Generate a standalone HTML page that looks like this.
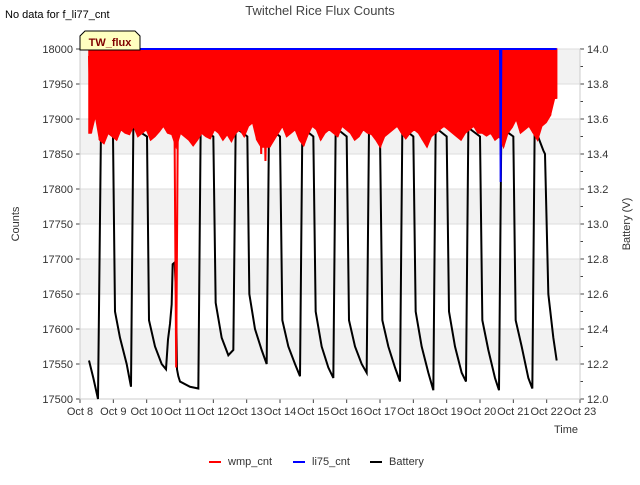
<!DOCTYPE html>
<html><head><meta charset="utf-8"><style>
body{margin:0;background:#fff;}
svg{font-family:"Liberation Sans","DejaVu Sans",sans-serif;}
</style></head><body>
<svg id="c" width="640" height="480" xmlns="http://www.w3.org/2000/svg"></svg>
<script>
const leftTicks=[17500,17550,17600,17650,17700,17750,17800,17850,17900,17950,18000];
const rightTicks=[12.0,12.2,12.4,12.6,12.8,13.0,13.2,13.4,13.6,13.8,14.0];
const xTickLabels=["Oct 8","Oct 9","Oct 10","Oct 11","Oct 12","Oct 13","Oct 14","Oct 15","Oct 16","Oct 17","Oct 18","Oct 19","Oct 20","Oct 21","Oct 22","Oct 23"];
const batteryDays=[0.27,0.4,0.54,0.63,0.99,1.05,1.2,1.4,1.53,1.6,2.01,2.07,2.25,2.45,2.58,2.64,2.7,2.75,2.78,2.84,2.88,2.91,2.95,3.0,3.3,3.55,3.62,4.0,4.07,4.25,4.45,4.6,4.67,5.02,5.08,5.25,5.45,5.6,5.67,6.0,6.07,6.25,6.45,6.6,6.67,7.0,7.07,7.25,7.45,7.6,7.67,8.0,8.07,8.25,8.45,8.6,8.67,9.0,9.07,9.25,9.45,9.6,9.67,10.0,10.07,10.25,10.45,10.6,10.67,11.0,11.07,11.25,11.45,11.58,11.65,12.0,12.07,12.25,12.45,12.57,12.64,13.0,13.07,13.25,13.45,13.57,13.64,13.9,13.95,14.05,14.2,14.3];
const batteryVolts=[12.22,12.12,12.0,13.55,13.5,12.5,12.35,12.2,12.07,13.55,13.5,12.45,12.3,12.2,12.17,12.34,12.43,12.54,12.77,12.78,12.6,12.17,12.13,12.1,12.07,12.06,13.55,13.5,12.55,12.35,12.25,12.28,13.55,13.5,12.6,12.4,12.28,12.2,13.55,13.5,12.45,12.3,12.2,12.13,13.55,13.5,12.5,12.3,12.18,12.12,13.55,13.5,12.45,12.3,12.2,12.15,13.55,13.5,12.45,12.3,12.18,12.1,13.55,13.5,12.5,12.3,12.15,12.05,13.55,13.5,12.5,12.3,12.15,12.1,13.55,13.5,12.45,12.28,12.12,12.05,13.55,13.5,12.45,12.3,12.12,12.06,13.55,13.42,13.4,12.6,12.35,12.22];
const wmpLows=[17880,17905,17870,17865,17880,17875,17870,17885,17880,17878,17890,17875,17880,17885,17870,17875,17882,17890,17880,17878,17545,17880,17875,17870,17862,17870,17880,17875,17872,17885,17880,17870,17878,17868,17880,17885,17875,17890,17895,17870,17850,17840,17860,17870,17880,17890,17875,17880,17885,17870,17862,17878,17890,17885,17870,17880,17885,17880,17875,17890,17885,17880,17870,17875,17885,17880,17878,17870,17860,17875,17880,17885,17890,17880,17872,17880,17885,17880,17870,17860,17875,17880,17885,17890,17885,17880,17875,17870,17880,17885,17890,17880,17880,17876,17880,17870,17875,17860,17880,17888,17900,17880,17885,17890,17880,17870,17890,17895,17905,17930];
const wmpStart=0.27, wmpEnd=14.3;
const li75Days=[0.27,12.6,12.62,12.64,12.66,14.3];
const li75Vals=[18000,18000,17810,18000,18000,18000];

const svg=document.getElementById('c');const NS='http://www.w3.org/2000/svg';
const X0=80,X1=580,Y0=49,Y1=399;
const xs=d=>X0+d*(X1-X0)/15;
const yl=v=>Y1-(v-17500)/500*(Y1-Y0);
const yr=v=>Y1-(v-12)/2*(Y1-Y0);
function mk(t,a,p){const e=document.createElementNS(NS,t);for(const k in a)e.setAttribute(k,a[k]);(p||svg).appendChild(e);return e;}
for(let i=0;i<10;i+=2){
 const r=mk('rect',{x:X0,y:yl(leftTicks[10-i]),width:X1-X0,height:yl(leftTicks[9-i])-yl(leftTicks[10-i]),fill:'#f2f2f2'});
 
 
}
leftTicks.forEach(v=>{
 const g=mk('line',{x1:X0,x2:X1,y1:yl(v),y2:yl(v),stroke:'#ddd','stroke-width':1});
 
 
 const t=mk('line',{x1:X0-4,x2:X0,y1:yl(v),y2:yl(v),stroke:'#444'});
 
 
 const l=mk('text',{x:73,y:yl(v)+4,'text-anchor':'end','font-size':11,fill:'#333'});l.textContent=v;
 
 
});
rightTicks.forEach(v=>{
 const t=mk('line',{x1:X1,x2:X1+4,y1:yr(v),y2:yr(v),stroke:'#444'});
 
 
 const l=mk('text',{x:587,y:yr(v)+4,'font-size':11,fill:'#333'});l.textContent=v.toFixed(1);
 
 
});
for(let i=0;i<10;i++){const v=12.1+i*0.2;const t=mk('line',{x1:X1,x2:X1+3,y1:yr(v),y2:yr(v),stroke:'#444'});
 
 }
xTickLabels.forEach((s,i)=>{
 const t=mk('line',{x1:xs(i),x2:xs(i),y1:Y1,y2:Y1+4,stroke:'#444'});
 
 
 const l=mk('text',{x:xs(i),y:415,'text-anchor':'middle','font-size':11,fill:'#333'});l.textContent=s;
 
 
});
const frame=mk('path',{d:`M${X0},${Y0}V${Y1}H${X1}V${Y0}`,fill:'none',stroke:'#ccc'});


const bp=mk('polyline',{points:batteryDays.map((d,i)=>xs(d)+','+yr(batteryVolts[i])).join(' '),fill:'none',stroke:'#000','stroke-width':2});


// wmp: dense vertical strokes rendered as filled area plus spike line
const step=(wmpEnd-wmpStart)/(wmpLows.length);
let lowPts=wmpLows.map((v,i)=>xs(wmpStart+step*(i+0.5))+','+yl(Math.max(v,17860)));
const area=mk('polygon',{points:[xs(wmpStart)+','+yl(18000),xs(wmpStart)+','+yl(17880)].concat(lowPts,[xs(wmpEnd)+','+yl(17930),xs(wmpEnd)+','+yl(18000)]).join(' '),fill:'#f00',stroke:'#f00','stroke-width':1.5});


let pts=[];wmpLows.forEach((v,i)=>{pts.push(xs(wmpStart+step*i)+','+yl(17990));pts.push(xs(wmpStart+step*(i+0.5))+','+yl(v));});
pts.push(xs(wmpEnd)+','+yl(17930));
const wp=mk('polyline',{points:pts.join(' '),fill:'none',stroke:'#f00','stroke-width':2});


const lp=mk('polyline',{points:li75Days.map((d,i)=>xs(d)+','+yl(li75Vals[i])).join(' '),fill:'none',stroke:'#00f','stroke-width':2});


</script>
<svg width="640" height="480" style="position:absolute;left:0;top:0" xmlns="http://www.w3.org/2000/svg" font-family="Liberation Sans, DejaVu Sans, sans-serif">
<text x="5" y="18" font-size="11" fill="#000">No data for f_li77_cnt</text>
<text x="320" y="15" font-size="13" fill="#444" text-anchor="middle">Twitchel Rice Flux Counts</text>
<path d="M80,50 V36 L85,31 H135 L140,36 V50 Z" fill="#ffffc0" stroke="#000"/>
<text x="110" y="46" font-size="11" font-weight="bold" fill="#800000" text-anchor="middle">TW_flux</text>
<text transform="translate(19,224) rotate(-90)" font-size="11" fill="#333" text-anchor="middle">Counts</text>
<text transform="translate(630,224) rotate(-90)" font-size="11" fill="#333" text-anchor="middle">Battery (V)</text>
<text x="566" y="433" font-size="11" fill="#333" text-anchor="middle">Time</text>
<g>
<line x1="209" x2="221" y1="462" y2="462" stroke="#f00" stroke-width="2"/>
<text x="228" y="465" font-size="11" fill="#333">wmp_cnt</text>
<line x1="293" x2="305" y1="462" y2="462" stroke="#00f" stroke-width="2"/>
<text x="312" y="465" font-size="11" fill="#333">li75_cnt</text>
<line x1="370" x2="382" y1="462" y2="462" stroke="#000" stroke-width="2"/>
<text x="389" y="465" font-size="11" fill="#333">Battery</text>
</g>
</svg>
</body></html>
